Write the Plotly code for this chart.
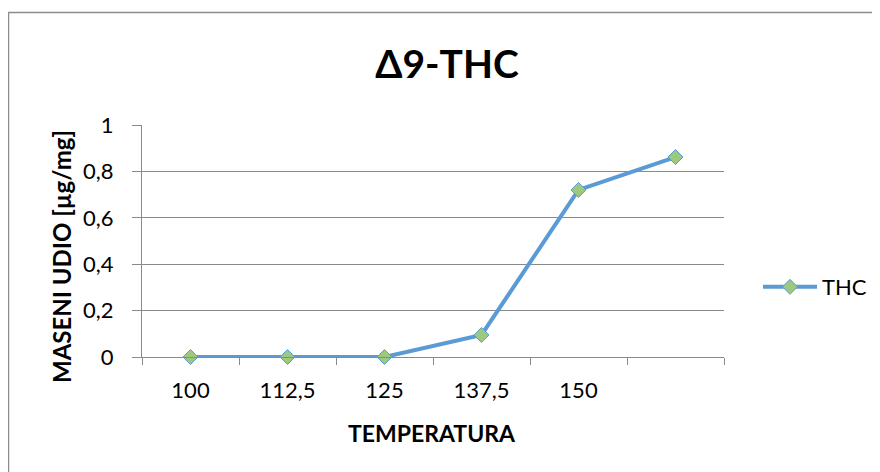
import plotly.graph_objects as go

# ---- data ----
categories = ["100", "112,5", "125", "137,5", "150", ""]
thc_values = [0.0, 0.0, 0.0, 0.095, 0.72, 0.862]
y_tick_values = [0, 0.2, 0.4, 0.6, 0.8, 1.0]
y_tick_labels = ["0", "0,2", "0,4", "0,6", "0,8", "1"]
series_name = "THC"
chart_title = "Δ9-THC"
x_title = "TEMPERATURA"
y_title = "MASENI UDIO [µg/mg]"

# page body has an 8px margin; figure placed at (8,8)
OFF = 8
W, H = 880 - OFF, 472 - OFF
PLOT_L, PLOT_R, PLOT_T, PLOT_B = 142, 724, 125, 357  # in window pixels
L = PLOT_L - OFF
T = PLOT_T - OFF
R = W - (PLOT_R - OFF)
B = H - (PLOT_B - OFF)
PW, PH = PLOT_R - PLOT_L, PLOT_B - PLOT_T

def px_x(x):
    return (x - PLOT_L) / PW

def px_y(y):
    return (PLOT_B - y) / PH

FONT = "Lato, 'Open Sans', sans-serif"
GRID = "#8a8a8a"
LINE = "#5B9BD5"
MARK = "#9DC97E"

idx = list(range(len(categories)))

fig = go.Figure()
fig.add_trace(go.Scatter(
    x=idx, y=thc_values, name=series_name, mode="lines+markers",
    line=dict(color=LINE, width=4),
    marker=dict(symbol="diamond", size=11.5, color=MARK,
                line=dict(color=LINE, width=1)),
    cliponaxis=False,
))

fig.update_layout(
    width=W, height=H,
    margin=dict(l=L, r=R, t=T, b=B, pad=0, autoexpand=False),
    paper_bgcolor="white", plot_bgcolor="white",
    font=dict(family=FONT, color="#000000"),
    title=dict(text="<b>" + chart_title + "</b>", x=(447 - OFF) / W, xanchor="center",
               xref="container", yref="container", y=1 - (64 - OFF) / H, yanchor="middle",
               font=dict(size=39, family=FONT, color="#000000")),
    showlegend=True,
    legend=dict(x=px_x(758), xanchor="left", y=px_y(287), yanchor="middle",
                itemwidth=54,
                font=dict(size=22, family=FONT, color="#000000"),
                bgcolor="rgba(0,0,0,0)", borderwidth=0),
    xaxis=dict(
        range=[-0.5, len(categories) - 0.5],
        tickvals=idx, ticktext=categories,
        ticks="", showgrid=False, zeroline=False,
        showline=True, linecolor=GRID, linewidth=1,
        tickfont=dict(size=22, family=FONT, color="#000000"),
        ticklabelstandoff=14,
        minor=dict(tickvals=[i - 0.5 for i in range(len(categories) + 1)],
                   ticks="outside", ticklen=7, tickcolor=GRID, tickwidth=1,
                   showgrid=False),
        fixedrange=True, automargin=False,
    ),
    yaxis=dict(
        range=[0, 1], tickvals=y_tick_values, ticktext=y_tick_labels,
        ticks="outside", ticklen=9, tickcolor=GRID, tickwidth=1,
        showgrid=True, gridcolor=GRID, gridwidth=1, zeroline=False,
        showline=True, linecolor=GRID, linewidth=1,
        tickfont=dict(size=22, family=FONT, color="#000000"),
        ticklabelstandoff=14,
        fixedrange=True, automargin=False,
    ),
    shapes=[dict(type="rect", xref="paper", yref="paper",
                 x0=px_x(8.5), x1=px_x(895), y0=px_y(495), y1=px_y(12.5),
                 line=dict(color="#8c8c8c", width=1.5), fillcolor="rgba(0,0,0,0)",
                 layer="below")],
    annotations=[
        dict(text="<b>" + x_title + "</b>", xref="paper", yref="paper",
             x=px_x(432), y=px_y(433), xanchor="center", yanchor="middle",
             showarrow=False, font=dict(size=23, family=FONT, color="#000000")),
        dict(text="<b>" + y_title + "</b>", xref="paper", yref="paper",
             x=px_x(61), y=px_y(257), xanchor="center", yanchor="middle",
             textangle=-90, showarrow=False,
             font=dict(size=24, family=FONT, color="#000000")),
    ],
)

fig.write_html("out.html", config={"displayModeBar": False})
